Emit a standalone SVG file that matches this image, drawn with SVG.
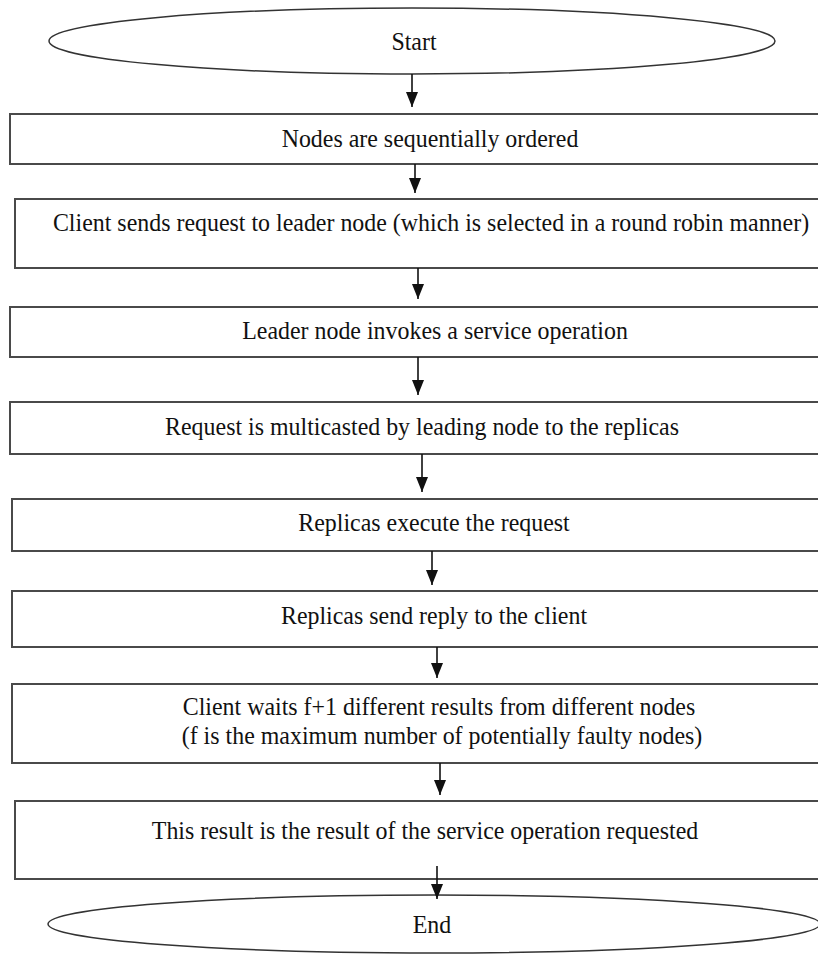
<svg xmlns="http://www.w3.org/2000/svg" width="818" height="956" viewBox="0 0 818 956">
  <style>
    .box { fill: #ffffff; stroke: #4a4a4a; stroke-width: 2; }
    .term { fill: #ffffff; stroke: #333333; stroke-width: 1.5; }
    .lbl { font-family: "Liberation Serif", "Times New Roman", serif; font-size: 26px; fill: #111111; text-anchor: middle; }
    .edge { stroke: #111111; stroke-width: 1.6; fill: none; marker-end: url(#arrow); }
  </style>
  <defs>
    <!-- filled triangular head, tip at the end of the line -->
    <marker id="arrow" viewBox="0 0 15 12" refX="15" refY="6" markerWidth="15" markerHeight="12" markerUnits="userSpaceOnUse" orient="auto">
      <path d="M0,0 L15,6 L0,12 Z" fill="#111111"/>
    </marker>
  </defs>
  <rect width="818" height="956" fill="#ffffff"/>

  <!-- labels are set slightly narrow: translate to the anchor point, then squeeze horizontally -->
  <g id="start">
    <ellipse class="term" cx="412" cy="41" rx="363" ry="33"/>
    <text class="lbl" transform="translate(414 50) scale(0.92 1)">Start</text>
  </g>

  <g id="step1">
    <rect class="box" x="10" y="114" width="820" height="50"/>
    <text class="lbl" transform="translate(430 147) scale(0.92 1)">Nodes are sequentially ordered</text>
  </g>

  <g id="step2">
    <rect class="box" x="15" y="199" width="815" height="69"/>
    <text class="lbl" transform="translate(431 231) scale(0.92 1)">Client sends request to leader node (which is selected in a round robin manner)</text>
  </g>

  <g id="step3">
    <rect class="box" x="10" y="307" width="820" height="50"/>
    <text class="lbl" transform="translate(435 339) scale(0.92 1)">Leader node invokes a service operation</text>
  </g>

  <g id="step4">
    <rect class="box" x="10" y="402" width="820" height="52"/>
    <text class="lbl" transform="translate(422 435) scale(0.92 1)">Request is multicasted by leading node to the replicas</text>
  </g>

  <g id="step5">
    <rect class="box" x="12" y="499" width="818" height="52"/>
    <text class="lbl" transform="translate(434 531) scale(0.92 1)">Replicas execute the request</text>
  </g>

  <g id="step6">
    <rect class="box" x="12" y="591" width="818" height="56"/>
    <text class="lbl" transform="translate(434 624) scale(0.92 1)">Replicas send reply to the client</text>
  </g>

  <g id="step7">
    <rect class="box" x="12" y="684" width="818" height="79"/>
    <text class="lbl" transform="translate(439 715) scale(0.92 1)">Client waits f+1 different results from different nodes</text>
    <text class="lbl" transform="translate(442 744) scale(0.92 1)">(f is the maximum number of potentially faulty nodes)</text>
  </g>

  <g id="step8">
    <rect class="box" x="15" y="801" width="815" height="78"/>
    <text class="lbl" transform="translate(425 839) scale(0.92 1)">This result is the result of the service operation requested</text>
  </g>

  <g id="end">
    <ellipse class="term" cx="434" cy="924" rx="386" ry="29"/>
    <text class="lbl" transform="translate(432 933) scale(0.92 1)">End</text>
  </g>

  <g id="connectors">
    <line class="edge" x1="412" y1="74" x2="412" y2="107"/>
    <line class="edge" x1="415" y1="164" x2="415" y2="193"/>
    <line class="edge" x1="418" y1="268" x2="418" y2="299"/>
    <line class="edge" x1="418" y1="357" x2="418" y2="395"/>
    <line class="edge" x1="422" y1="454" x2="422" y2="492"/>
    <line class="edge" x1="432" y1="551" x2="432" y2="585"/>
    <line class="edge" x1="437" y1="647" x2="437" y2="678"/>
    <line class="edge" x1="440" y1="763" x2="440" y2="795"/>
    <line class="edge" x1="437" y1="866" x2="437" y2="899"/>
  </g>
</svg>
